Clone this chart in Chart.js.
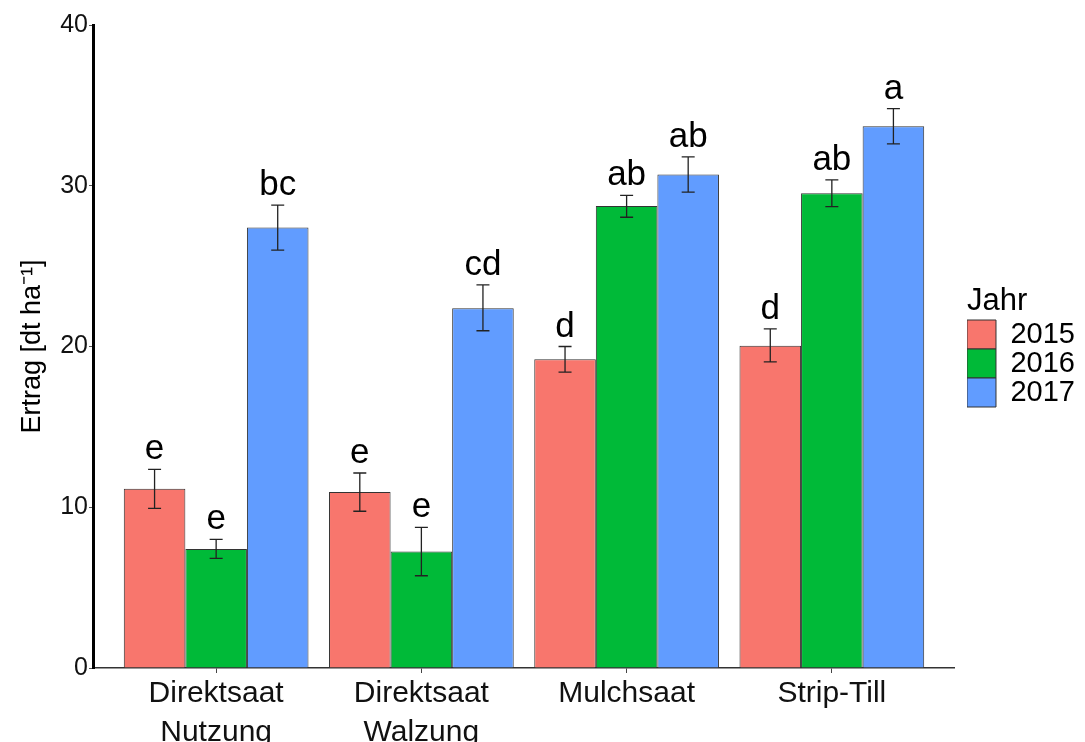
<!DOCTYPE html>
<html>
<head>
<meta charset="utf-8">
<script src="https://cdn.jsdelivr.net/npm/chart.js@4/dist/chart.umd.min.js"></script>
<style>
  html, body { margin: 0; padding: 0; background: #fff; }
  #wrap { width: 1085px; height: 742px; }
</style>
</head>
<body>
<div id="wrap"><canvas id="chart"></canvas></div>
<script>
// Ertrag je Bodenbearbeitung und Jahr
const categories = [['Direktsaat', 'Nutzung'], ['Direktsaat', 'Walzung'], 'Mulchsaat', 'Strip-Till'];
const years = ['2015', '2016', '2017'];
const colors = ['#F8766D', '#00BA38', '#619CFF'];

const yield2015 = [11.15, 10.95, 19.2, 20.05];
const yield2016 = [7.4, 7.24, 28.74, 29.53];
const yield2017 = [27.4, 22.38, 30.7, 33.7];

// error bar ends (lower / upper)
const low2015 = [9.93, 9.75, 18.4, 19.04];
const high2015 = [12.36, 12.13, 20.0, 21.1];
const low2016 = [6.82, 5.74, 28.04, 28.7];
const high2016 = [8.0, 8.75, 29.4, 30.36];
const low2017 = [26.0, 20.98, 29.6, 32.6];
const high2017 = [28.8, 23.83, 31.8, 34.8];

// significance letters
const letters2015 = ['e', 'e', 'd', 'd'];
const letters2016 = ['e', 'e', 'ab', 'ab'];
const letters2017 = ['bc', 'cd', 'ab', 'a'];

const yTicks = [0, 10, 20, 30, 40];

Chart.defaults.font.family = "'Liberation Sans', Arial, sans-serif";
Chart.defaults.color = '#000';

const series = [
    { values: yield2015, low: low2015, high: high2015, letters: letters2015 },
    { values: yield2016, low: low2016, high: high2016, letters: letters2016 },
    { values: yield2017, low: low2017, high: high2017, letters: letters2017 }
];

const errorBars = {
    id: 'errorBars',
    afterDatasetsDraw(chart) {
        const ctx = chart.ctx;
        const yScale = chart.scales.y;
        ctx.save();
        chart.data.datasets.forEach((ds, di) => {
            const meta = chart.getDatasetMeta(di);
            meta.data.forEach((bar, i) => {
                const top = yScale.getPixelForValue(ds.errHigh[i]);
                const bottom = yScale.getPixelForValue(ds.errLow[i]);
                ctx.strokeStyle = '#222';
                ctx.lineWidth = 1.3;
                ctx.beginPath();
                ctx.moveTo(bar.x, top);
                ctx.lineTo(bar.x, bottom);
                ctx.moveTo(bar.x - 6.5, top);
                ctx.lineTo(bar.x + 6.5, top);
                ctx.moveTo(bar.x - 6.5, bottom);
                ctx.lineTo(bar.x + 6.5, bottom);
                ctx.stroke();

                ctx.fillStyle = '#000';
                ctx.font = "35px 'Liberation Sans', Arial, sans-serif";
                ctx.textAlign = 'center';
                ctx.textBaseline = 'alphabetic';
                ctx.fillText(ds.letters[i], bar.x, top - 10);
            });
        });
        ctx.restore();
    }
};

new Chart(document.getElementById('chart').getContext('2d'), {
    type: 'bar',
    data: {
        datasets: series.map((s, k) => ({
            label: years[k],
            data: s.values.map((v, i) => ({ x: i + 1, y: v })),
            errLow: s.low,
            errHigh: s.high,
            letters: s.letters,
            backgroundColor: colors[k],
            borderColor: '#333',
            borderWidth: 1,
            categoryPercentage: 0.9,
            barPercentage: 1
        }))
    },
    options: {
        responsive: true,
        maintainAspectRatio: false,
        animation: false,
        layout: { padding: { top: 25, right: 0, left: 0, bottom: 0 } },
        plugins: {
            tooltip: { enabled: false },
            legend: {
                position: 'right',
                fullSize: false,
                title: {
                    display: true,
                    text: 'Jahr',
                    position: 'start',
                    font: { size: 31, lineHeight: 1.0 },
                    padding: { top: 0, bottom: 3 }
                },
                labels: {
                    boxWidth: 29,
                    boxHeight: 29,
                    padding: 0,
                    font: { size: 29 }
                }
            }
        },
        scales: {
            x: {
                type: 'linear',
                min: 0.4,
                max: 4.6,
                offset: false,
                afterBuildTicks(axis) {
                    axis.ticks = categories.map((c, i) => ({ value: i + 1 }));
                },
                afterFit(axis) { axis.height = 74; },
                ticks: {
                    callback: (v) => categories[Math.round(v) - 1],
                    font: { size: 30, lineHeight: 1.3 },
                    color: '#111',
                    padding: 1,
                    autoSkip: false,
                    maxRotation: 0
                },
                grid: { offset: false, drawOnChartArea: false, drawTicks: true, tickLength: 5, color: '#444' },
                border: { color: '#333', width: 1.5 }
            },
            y: {
                min: 0,
                max: 40,
                afterBuildTicks(axis) {
                    axis.ticks = yTicks.map(v => ({ value: v }));
                },
                afterFit(axis) { axis.width = 93; },
                ticks: { font: { size: 25 }, color: '#111', padding: 1 },
                grid: { drawOnChartArea: false, drawTicks: true, tickLength: 4, color: '#555' },
                border: { color: '#000', width: 3 },
                title: {
                    display: true,
                    text: 'Ertrag [dt ha⁻¹]',
                    font: { size: 27 },
                    color: '#000',
                    padding: { top: 16, bottom: 0 }
                }
            },
            // empty right axis: keeps a gap between plot and legend
            gap: {
                position: 'right',
                display: true,
                ticks: { display: false },
                grid: { display: false },
                border: { display: false },
                afterFit(axis) { axis.width = 12; }
            }
        }
    },
    plugins: [errorBars]
});
</script>
</body>
</html>
